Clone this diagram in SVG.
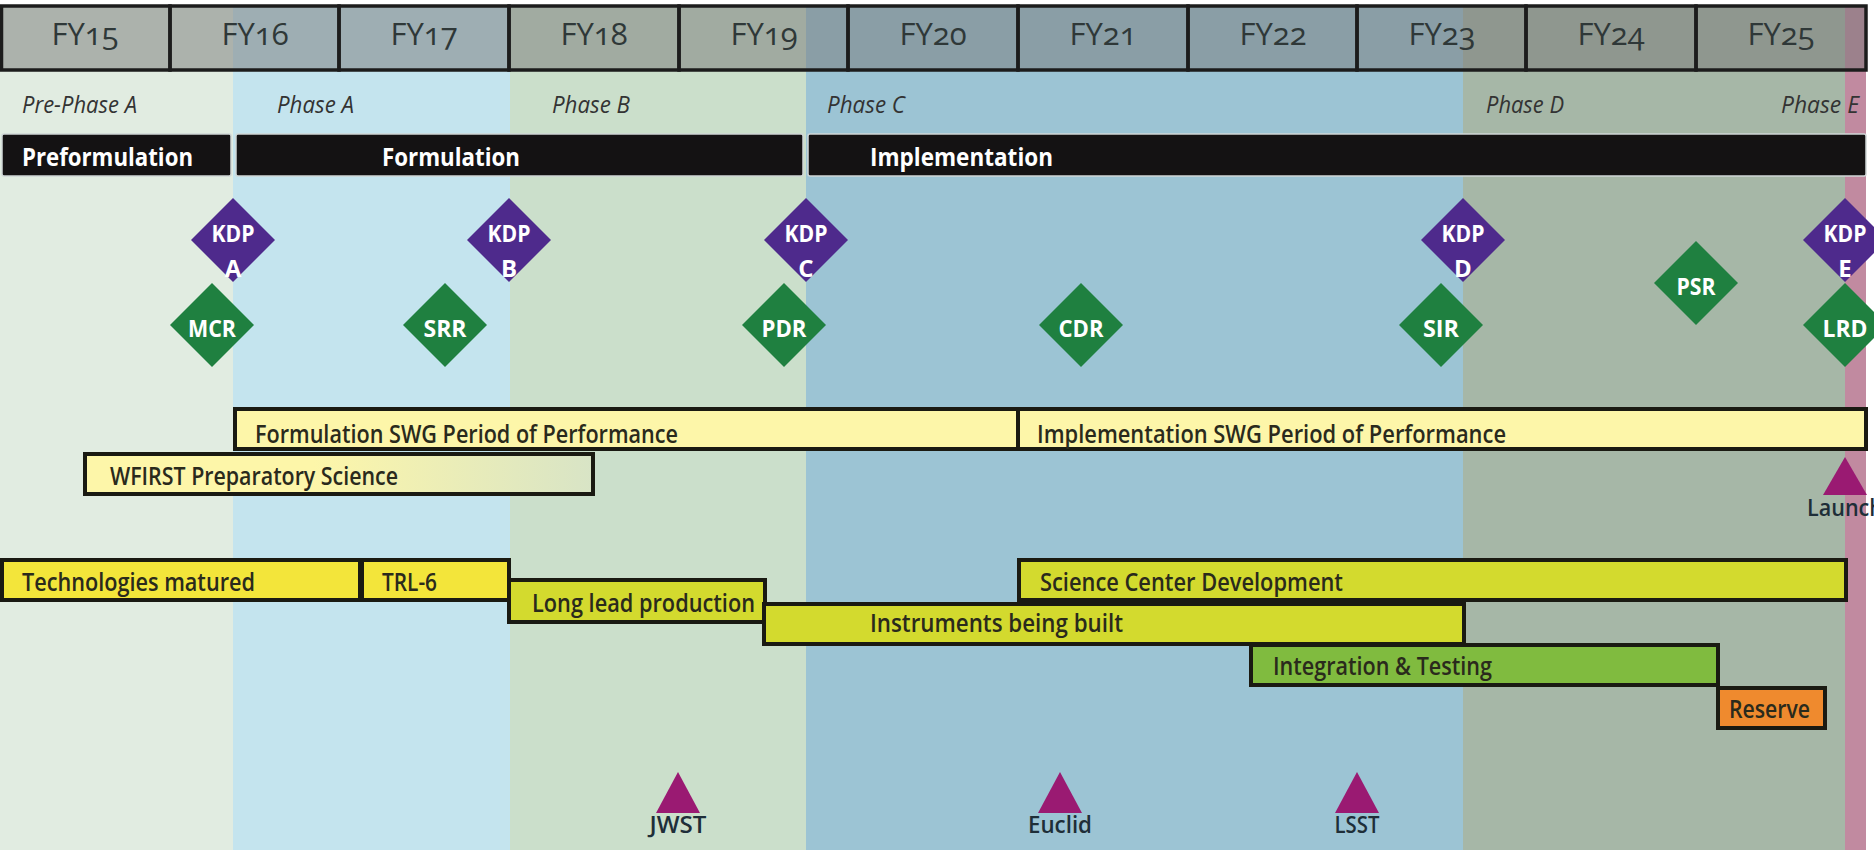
<svg xmlns="http://www.w3.org/2000/svg" width="1874" height="850" viewBox="0 0 1874 850">
<style>
.fy{font-family:"Open Sans","Lato","Liberation Sans",sans-serif;font-size:31px;fill:#2f3838;text-anchor:middle;font-variant-numeric:oldstyle-nums;font-feature-settings:"onum" 1;}
.ph{font-family:"Open Sans","Liberation Sans",sans-serif;font-style:italic;font-size:24px;fill:#333333;}
.bk{font-family:"Open Sans","Liberation Sans",sans-serif;font-weight:700;font-size:25px;fill:#ffffff;}
.kd{font-family:"Open Sans","Liberation Sans",sans-serif;font-weight:700;font-size:24px;fill:#ffffff;text-anchor:middle;}
.lb{font-family:"Open Sans","Liberation Sans",sans-serif;font-weight:600;font-size:26px;fill:#2a2a1c;}
.tl{font-family:"Open Sans","Liberation Sans",sans-serif;font-weight:600;font-size:24px;fill:#1e2e38;text-anchor:middle;}
.cell{fill:none;stroke:#1c1c1c;stroke-width:3.5;}
.blk{fill:#141213;stroke:#cfd6d6;stroke-width:1.5;}
.kdp{fill:#4e2a8c;}
.rev{fill:#1f8040;}
.bar{stroke:#1a1a12;stroke-width:4;}
.pale{fill:#fdf6a9;}
.ylw{fill:#f3e53a;}
.ygr{fill:#d3da2e;}
.grn{fill:#80bb3f;}
.org{fill:#ef8a2e;}
.tri{fill:#9a1a72;}
</style>
<defs>
<linearGradient id="fade" x1="0" y1="0" x2="1" y2="0">
<stop offset="0.45" stop-color="#fdf6a9"/>
<stop offset="1" stop-color="#d8e4c6"/>
</linearGradient>
</defs>
<rect x="0" y="0" width="1874" height="850" fill="#ffffff"/>
<g id="phases">
<rect x="0" y="5" width="233" height="845" fill="#e1ece1"/>
<rect x="233" y="5" width="277" height="845" fill="#c4e4ee"/>
<rect x="510" y="5" width="296" height="845" fill="#cbdfcb"/>
<rect x="806" y="5" width="657" height="845" fill="#9cc4d4"/>
<rect x="1463" y="5" width="382" height="845" fill="#a6b7a7"/>
<rect x="1845" y="5" width="21" height="845" fill="#c18aa0"/>
</g>
<g id="header">
<rect x="1.5" y="6" width="1864.5" height="64" fill="#787878" fill-opacity="0.5"/>
<rect class="cell" x="1.5" y="6" width="168.5" height="64"/>
<rect class="cell" x="170" y="6" width="169" height="64"/>
<rect class="cell" x="339" y="6" width="170" height="64"/>
<rect class="cell" x="509" y="6" width="170" height="64"/>
<rect class="cell" x="679" y="6" width="169" height="64"/>
<rect class="cell" x="848" y="6" width="170" height="64"/>
<rect class="cell" x="1018" y="6" width="170" height="64"/>
<rect class="cell" x="1188" y="6" width="169" height="64"/>
<rect class="cell" x="1357" y="6" width="169" height="64"/>
<rect class="cell" x="1526" y="6" width="170" height="64"/>
<rect class="cell" x="1696" y="6" width="170" height="64"/>
<text class="fy" x="85" y="45">FY15</text>
<text class="fy" x="255" y="45">FY16</text>
<text class="fy" x="424" y="45">FY17</text>
<text class="fy" x="594" y="45">FY18</text>
<text class="fy" x="764" y="45">FY19</text>
<text class="fy" x="933" y="45">FY20</text>
<text class="fy" x="1103" y="45">FY21</text>
<text class="fy" x="1273" y="45">FY22</text>
<text class="fy" x="1442" y="45">FY23</text>
<text class="fy" x="1611" y="45">FY24</text>
<text class="fy" x="1781" y="45">FY25</text>
</g>
<g id="phase-labels">
<text class="ph" x="22" y="113" textLength="115" lengthAdjust="spacingAndGlyphs">Pre-Phase A</text>
<text class="ph" x="277" y="113" textLength="77" lengthAdjust="spacingAndGlyphs">Phase A</text>
<text class="ph" x="552" y="113" textLength="78" lengthAdjust="spacingAndGlyphs">Phase B</text>
<text class="ph" x="827" y="113" textLength="78" lengthAdjust="spacingAndGlyphs">Phase C</text>
<text class="ph" x="1486" y="113" textLength="78" lengthAdjust="spacingAndGlyphs">Phase D</text>
<text class="ph" x="1781" y="113" textLength="78" lengthAdjust="spacingAndGlyphs">Phase E</text>
</g>
<g id="stage-preformulation">
<rect class="blk" x="2" y="134" width="229" height="42" rx="2"/>
<text class="bk" x="22" y="166" textLength="171" lengthAdjust="spacingAndGlyphs">Preformulation</text>
</g>
<g id="stage-formulation">
<rect class="blk" x="236" y="134" width="567" height="42" rx="2"/>
<text class="bk" x="382" y="166" textLength="138" lengthAdjust="spacingAndGlyphs">Formulation</text>
</g>
<g id="stage-implementation">
<rect class="blk" x="808" y="134" width="1058" height="42" rx="2"/>
<text class="bk" x="870" y="166" textLength="183" lengthAdjust="spacingAndGlyphs">Implementation</text>
</g>
<g id="kdp-a"><polygon class="kdp" points="233,198 275,240 233,282 191,240"/><text class="kd" x="233" y="242" textLength="43" lengthAdjust="spacingAndGlyphs">KDP</text><text class="kd" x="233" y="277">A</text></g>
<g id="kdp-b"><polygon class="kdp" points="509,198 551,240 509,282 467,240"/><text class="kd" x="509" y="242" textLength="43" lengthAdjust="spacingAndGlyphs">KDP</text><text class="kd" x="509" y="277">B</text></g>
<g id="kdp-c"><polygon class="kdp" points="806,198 848,240 806,282 764,240"/><text class="kd" x="806" y="242" textLength="43" lengthAdjust="spacingAndGlyphs">KDP</text><text class="kd" x="806" y="277">C</text></g>
<g id="kdp-d"><polygon class="kdp" points="1463,198 1505,240 1463,282 1421,240"/><text class="kd" x="1463" y="242" textLength="43" lengthAdjust="spacingAndGlyphs">KDP</text><text class="kd" x="1463" y="277">D</text></g>
<g id="kdp-e"><polygon class="kdp" points="1845,198 1887,240 1845,282 1803,240"/><text class="kd" x="1845" y="242" textLength="43" lengthAdjust="spacingAndGlyphs">KDP</text><text class="kd" x="1845" y="277">E</text></g>
<g id="mcr"><polygon class="rev" points="212,283 254,325 212,367 170,325"/><text class="kd" x="212" y="337" textLength="48" lengthAdjust="spacingAndGlyphs">MCR</text></g>
<g id="srr"><polygon class="rev" points="445,283 487,325 445,367 403,325"/><text class="kd" x="445" y="337" textLength="43" lengthAdjust="spacingAndGlyphs">SRR</text></g>
<g id="pdr"><polygon class="rev" points="784,283 826,325 784,367 742,325"/><text class="kd" x="784" y="337" textLength="45" lengthAdjust="spacingAndGlyphs">PDR</text></g>
<g id="cdr"><polygon class="rev" points="1081,283 1123,325 1081,367 1039,325"/><text class="kd" x="1081" y="337" textLength="45" lengthAdjust="spacingAndGlyphs">CDR</text></g>
<g id="sir"><polygon class="rev" points="1441,283 1483,325 1441,367 1399,325"/><text class="kd" x="1441" y="337" textLength="36" lengthAdjust="spacingAndGlyphs">SIR</text></g>
<g id="psr"><polygon class="rev" points="1696,241 1738,283 1696,325 1654,283"/><text class="kd" x="1696" y="295" textLength="39" lengthAdjust="spacingAndGlyphs">PSR</text></g>
<g id="lrd"><polygon class="rev" points="1845,283 1887,325 1845,367 1803,325"/><text class="kd" x="1845" y="337" textLength="45" lengthAdjust="spacingAndGlyphs">LRD</text></g>
<g id="formulation-swg">
<rect class="bar pale" x="235" y="409" width="783" height="40"/>
<text class="lb" x="255" y="443" textLength="423" lengthAdjust="spacingAndGlyphs">Formulation SWG Period of Performance</text>
</g>
<g id="implementation-swg">
<rect class="bar pale" x="1018" y="409" width="848" height="40"/>
<text class="lb" x="1037" y="443" textLength="469" lengthAdjust="spacingAndGlyphs">Implementation SWG Period of Performance</text>
</g>
<g id="wfirst-prep">
<rect class="bar" fill="url(#fade)" x="85" y="454" width="508" height="40"/>
<text class="lb" x="110" y="485" textLength="288" lengthAdjust="spacingAndGlyphs">WFIRST Preparatory Science</text>
</g>
<g id="launch">
<polygon class="tri" points="1845,457 1867,495 1823,495"/>
<text class="tl" x="1845" y="516" textLength="76" lengthAdjust="spacingAndGlyphs">Launch</text>
</g>
<g id="tech-matured">
<rect class="bar ylw" x="2" y="560" width="358" height="40"/>
<text class="lb" x="22" y="591" textLength="233" lengthAdjust="spacingAndGlyphs">Technologies matured</text>
</g>
<g id="trl6">
<rect class="bar ylw" x="362" y="560" width="147" height="40"/>
<text class="lb" x="382" y="591" textLength="55" lengthAdjust="spacingAndGlyphs">TRL-6</text>
</g>
<g id="long-lead">
<rect class="bar ygr" x="509" y="580" width="256" height="42"/>
<text class="lb" x="532" y="612" textLength="223" lengthAdjust="spacingAndGlyphs">Long lead production</text>
</g>
<g id="instruments">
<rect class="bar ygr" x="764" y="604" width="700" height="40"/>
<text class="lb" x="870" y="632" textLength="253" lengthAdjust="spacingAndGlyphs">Instruments being built</text>
</g>
<g id="science-center">
<rect class="bar ygr" x="1019" y="560" width="827" height="40"/>
<text class="lb" x="1040" y="591" textLength="303" lengthAdjust="spacingAndGlyphs">Science Center Development</text>
</g>
<g id="integration">
<rect class="bar grn" x="1251" y="645" width="467" height="40"/>
<text class="lb" x="1273" y="675" textLength="219" lengthAdjust="spacingAndGlyphs">Integration &amp; Testing</text>
</g>
<g id="reserve">
<rect class="bar org" x="1718" y="688" width="107" height="40"/>
<text class="lb" x="1729" y="718" textLength="81" lengthAdjust="spacingAndGlyphs">Reserve</text>
</g>
<g id="jwst">
<polygon class="tri" points="678,772 700,813 656,813"/>
<text class="tl" x="678" y="833" textLength="57" lengthAdjust="spacingAndGlyphs">JWST</text>
</g>
<g id="euclid">
<polygon class="tri" points="1060,772 1082,813 1038,813"/>
<text class="tl" x="1060" y="833" textLength="64" lengthAdjust="spacingAndGlyphs">Euclid</text>
</g>
<g id="lsst">
<polygon class="tri" points="1357,772 1379,813 1335,813"/>
<text class="tl" x="1357" y="833" textLength="45" lengthAdjust="spacingAndGlyphs">LSST</text>
</g>
<g id="connectors"/>
</svg>
